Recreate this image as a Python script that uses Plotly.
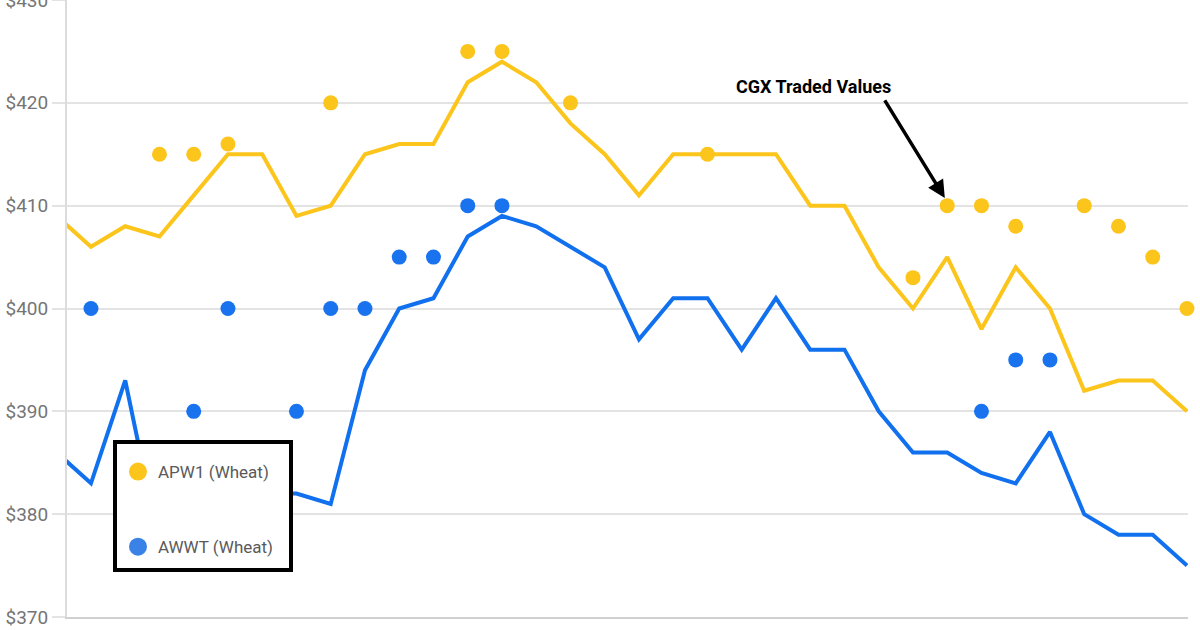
import plotly.graph_objects as go

# ---- data ----
periods = list(range(-1, 33))

apw1_line = [409, 406, 408, 407, 411, 415, 415, 409, 410, 415, 416, 416, 422, 424, 422,
             418, 415, 411, 415, 415, 415, 415, 410, 410, 404, 400, 405, 398, 404, 400,
             392, 393, 393, 390]
awwt_line = [386, 383, 393, 377, 380, 383, 382, 382, 381, 394, 400, 401, 407, 409, 408,
             406, 404, 397, 401, 401, 396, 401, 396, 396, 390, 386, 386, 384, 383, 388,
             380, 378, 378, 375]

apw1_cgx = [None, None, None, 415, 415, 416, None, None, 420, None, None, None, 425, 425, None,
            420, None, None, None, 415, None, None, None, None, None, 403, 410, 410, 408, None,
            410, 408, 405, 400]
awwt_cgx = [None, 400, None, None, 390, 400, None, 390, 400, 400, 405, 405, 410, 410, None,
            None, None, None, None, None, None, None, None, None, None, None, None, 390, 395, 395,
            None, None, None, None]

y_ticks = [370, 380, 390, 400, 410, 420, 430]
y_tick_labels = ["$370", "$380", "$390", "$400", "$410", "$420", "$430"]

series_names = ["APW1 (Wheat)", "AWWT (Wheat)"]
yellow = "#FCC51C"
blue = "#1170EE"
blue_dot = "#1A73EE"
blue_legend = "#3A82E6"

fig = go.Figure()

# lines (clipped to the plot area)
fig.add_trace(go.Scatter(x=periods, y=apw1_line, mode="lines",
                         line=dict(color=yellow, width=4), showlegend=False,
                         name=series_names[0]))
fig.add_trace(go.Scatter(x=periods, y=awwt_line, mode="lines",
                         line=dict(color=blue, width=4), showlegend=False,
                         name=series_names[1]))
# CGX traded values
fig.add_trace(go.Scatter(x=periods, y=apw1_cgx, mode="markers",
                         marker=dict(color=yellow, size=15), showlegend=False,
                         cliponaxis=False, name=series_names[0] + " CGX"))
fig.add_trace(go.Scatter(x=periods, y=awwt_cgx, mode="markers",
                         marker=dict(color=blue_dot, size=15), showlegend=False,
                         cliponaxis=False, name=series_names[1] + " CGX"))

# legend entries
fig.add_trace(go.Scatter(x=[None], y=[None], mode="markers", name=series_names[0],
                         marker=dict(color=yellow, size=18, line=dict(color=yellow, width=2)),
                         legendgroup="a"))
fig.add_trace(go.Scatter(x=[None], y=[None], mode="markers", name=series_names[1],
                         marker=dict(color=blue_legend, size=18, line=dict(color=blue_legend, width=2)),
                         legendgroup="b"))

W, H = 1200, 630
ml, mr, mt, mb = 67, 12, 0, 13
pw, ph = W - ml - mr, H - mt - mb


def px_x(p):
    return (p - ml) / pw


def px_y(p):
    return (H - mb - p) / ph


# legend box
fig.add_shape(type="rect", xref="paper", yref="paper",
              x0=px_x(115), x1=px_x(291), y0=px_y(570), y1=px_y(442),
              line=dict(color="black", width=4), fillcolor="white", layer="above")

fig.add_annotation(text="<b>CGX Traded Values</b>", x=21.11, y=421.6, xref="x", yref="y",
                   showarrow=False, font=dict(family="Roboto", size=18, color="black"))
fig.add_annotation(text="", x=24.93, y=410.75, xref="x", yref="y", showarrow=True,
                   ax=-61, ay=-99, arrowhead=2, arrowsize=1, arrowwidth=3.5,
                   arrowcolor="black", standoff=0)

fig.update_layout(
    width=W, height=H,
    margin=dict(l=ml, r=mr, t=mt, b=mb, autoexpand=False),
    paper_bgcolor="white", plot_bgcolor="white",
    font=dict(family="Roboto"),
    showlegend=True,
    legend=dict(x=px_x(118), y=px_y(454), xanchor="left", yanchor="top",
                bgcolor="rgba(0,0,0,0)", borderwidth=0, tracegroupgap=50,
                font=dict(family="Roboto", size=17, color="#5a5a5a")),
    xaxis=dict(range=[-0.70, 32.03], showgrid=False, zeroline=False, showticklabels=False,
               showline=True, linecolor="#d0d0d0", linewidth=2, ticks="", automargin=False),
    yaxis=dict(range=[370, 430], tickvals=y_ticks, ticktext=y_tick_labels,
               showgrid=True, gridcolor="#e3e3e3", gridwidth=1.5, zeroline=False,
               showline=True, linecolor="#dcdcdc", linewidth=2, automargin=False,
               ticks="outside", ticklen=13, tickcolor="#e3e3e3", tickwidth=1.5,
               ticklabeloverflow="allow",
               tickfont=dict(family="Roboto", size=19, color="#757575")),
)

fig.write_html("out.html")
